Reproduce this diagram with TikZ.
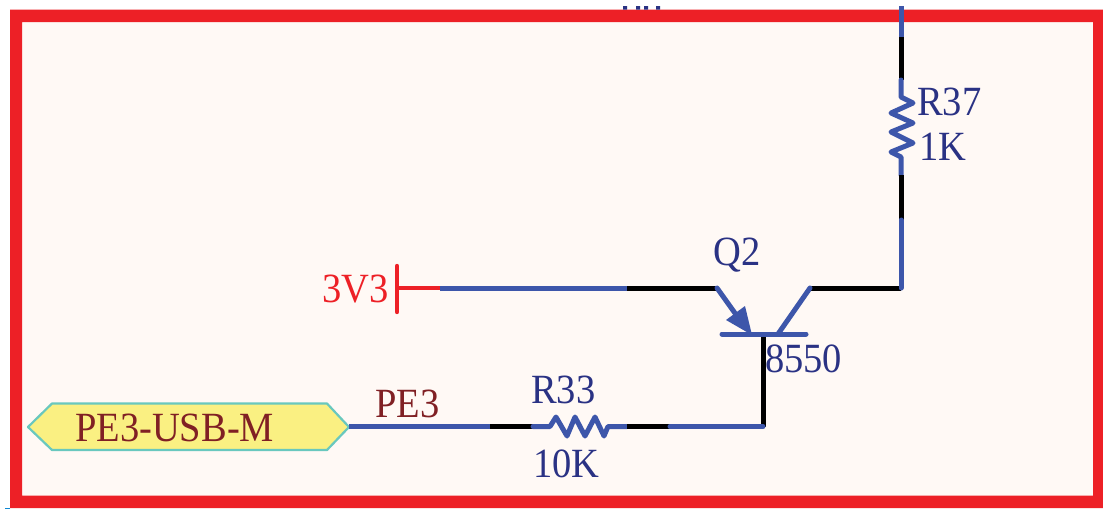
\documentclass[tikz,border=0pt]{standalone}
\usepackage{fontspec}
\setmainfont{Liberation Serif}
\definecolor{frameRed}{RGB}{237,32,38}
\definecolor{paper}{RGB}{255,249,245}
\definecolor{wireBlue}{RGB}{61,86,170}
\definecolor{inkNavy}{RGB}{42,50,132}
\definecolor{inkMaroon}{RGB}{128,32,36}
\definecolor{tagFill}{RGB}{250,240,130}
\definecolor{tagEdge}{RGB}{105,200,190}
\newcommand{\tallText}[1]{\scalebox{1}[1.08]{#1}}
\tikzset{
  wire/.style={draw=wireBlue,line width=5pt},
  blackwire/.style={draw=black,line width=5pt},
  redwire/.style={draw=frameRed,line width=4.4pt},
  lbl/.style={inner sep=0pt,anchor=base west,font=\fontsize{38.5}{38.5}\selectfont},
  navy/.style={lbl,text=inkNavy},
  maroon/.style={lbl,text=inkMaroon},
  redlbl/.style={lbl,text=frameRed},
}
\begin{document}
\begin{tikzpicture}[x=1pt,y=-1pt,line join=round]
\useasboundingbox (0,0) rectangle (1103,509);
\fill[white] (0,0) rectangle (1103,509);
\fill[paper] (22,22) rectangle (1093,495.5);
\fill[frameRed,even odd rule] (10,9.5) rectangle (1103,508) (22,22) rectangle (1093,495.5);
\fill[inkNavy] (623,6) rectangle (627,9.5) (636,6) rectangle (640,9.5) (644,6) rectangle (648,9.5) (656,6) rectangle (660,9.5);
\fill[cyan!70!blue] (5,507.5) rectangle (10,509);
% R37 branch
\coordinate (topEnd) at (901,6);
\coordinate (r37a) at (901,37);
\coordinate (r37b) at (901,80);
\coordinate (r37c) at (901,97);
\coordinate (r37d) at (901,157);
\coordinate (r37e) at (901,175);
\coordinate (r37f) at (901,220);
\coordinate (corner) at (901,288);
\coordinate (collTop) at (810,288);
\coordinate (collBot) at (778,334);
\draw[wire] (topEnd) -- (r37a);
\draw[blackwire] (r37a) -- (r37b);
\draw[wire,line cap=round] (r37b) -- (r37c) -- (913,103) -- (891,113) -- (913,123) -- (891,132) -- (913,143) -- (891,152) -- (r37d) -- (r37e);
\draw[blackwire] (r37e) -- (r37f);
\draw[blackwire] (collTop) -- (corner);
\draw[wire,line cap=round] (r37f) -- (corner);
\draw[wire,line cap=round] (collTop) -- (collBot);
% Emitter
\coordinate (vccJ) at (397,288);
\coordinate (vccB) at (440,288);
\coordinate (emA) at (627,288);
\coordinate (emB) at (717,288);
\coordinate (emTip) at (752,335);
\draw[redwire,line cap=round] (397,266) -- (397,312);
\draw[redwire] (vccJ) -- (vccB);
\draw[wire] (vccB) -- (emA);
\draw[blackwire] (emA) -- (emB);
\draw[wire,line cap=round] (emB) -- (737,316);
\fill[wireBlue] (emTip) -- (726,320) -- (745,306) -- cycle;
% Base and bar
\coordinate (baseTop) at (763,334);
\coordinate (baseBot) at (763,426.5);
\draw[blackwire] (baseTop) -- (baseBot);
\draw[wire,line cap=round] (722,334) -- (806,334);
% Tag
\fill[tagFill] (28,427) -- (52,403.5) -- (327,403.5) -- (349,427) -- (327,450) -- (52,450) -- cycle;
\draw[tagEdge,line width=2.2pt] (28,427) -- (52,403.5) -- (327,403.5) -- (349,427) -- (327,450) -- (52,450) -- cycle;
\coordinate (tagTip) at (349,426.5);
% Bottom wire
\draw[wire] (tagTip) -- (490,426.5);
\draw[blackwire] (490,426.5) -- (533,426.5);
\draw[wire,line cap=round] (533,426.5) -- (550,426.5) -- (556,417) -- (567,436) -- (575,417) -- (585,436) -- (595,417) -- (604,436) -- (608,426.5) -- (627,426.5);
\draw[blackwire] (627,426.5) -- (670,426.5);
\draw[wire,line cap=round] (670,426.5) -- (baseBot);
% Labels
\node[navy] (lR37) at (917,115) {\tallText{R37}};
\node[navy] (l1K) at (919,160) {\tallText{1K}};
\node[navy] (lQ2) at (713,265) {\tallText{Q2}};
\node[navy] (l8550) at (765,372) {\tallText{8550}};
\node[navy] (lR33) at (531,403) {\tallText{R33}};
\node[navy] (l10K) at (533,477) {\tallText{10K}};
\node[redlbl] (l3V3) at (322,302) {\tallText{3V3}};
\node[maroon] (lPE3) at (375,417) {\tallText{PE3}};
\node[maroon] (lTag) at (75,441) {\tallText{PE3-USB-M}};
\end{tikzpicture}
\end{document}
